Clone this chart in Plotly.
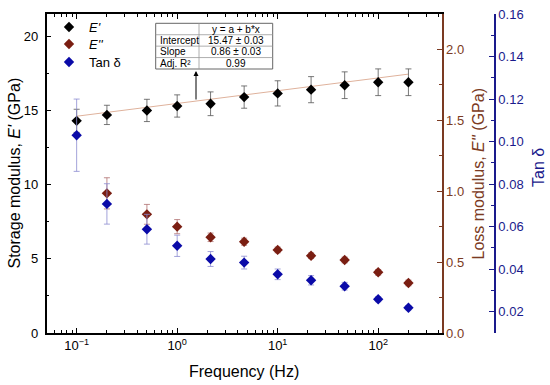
import numpy as np
import plotly.graph_objects as go

# ---------------- data ----------------
freq = [0.1, 0.2, 0.5, 1, 2.15, 4.64, 10, 21.5, 46.4, 100, 200]
e_storage = [14.3, 14.7, 15.0, 15.3, 15.45, 15.9, 16.15, 16.4, 16.7, 16.9, 16.9]
e_storage_err = [0.78, 0.65, 0.75, 0.75, 0.8, 0.75, 0.85, 0.88, 0.9, 0.9, 0.9]
e_loss = [None, 0.985, 0.837, 0.75, 0.675, 0.644, 0.586, 0.545, 0.515, 0.428, 0.353]
e_loss_err = [None, 0.11, 0.07, 0.05, 0.03, 0.025, 0.02, 0.02, 0.02, 0.02, 0.02]
tan_delta = [0.103, 0.0707, 0.0588, 0.051, 0.0448, 0.0431, 0.0376, 0.0348, 0.032, 0.0259, 0.0219]
tan_delta_err = [0.017, 0.0095, 0.007, 0.005, 0.0035, 0.003, 0.0025, 0.0022, 0.0018, 0.0012, 0.001]

fit_intercept = 15.47
fit_slope = 0.86
fit_rows = [("", "y = a + b*x"),
            ("Intercept", "15.47 \u00b1 0.03"),
            ("Slope", "0.86 \u00b1 0.03"),
            ("Adj. R\u00b2", "0.99")]

x_tickvals = [0.1, 1, 10, 100]
x_ticktext = ["10<sup>\u22121</sup>", "10<sup>0</sup>", "10<sup>1</sup>", "10<sup>2</sup>"]

# ---------------- styling ----------------
W, H = 550, 385
FONT = "Liberation Sans, Arial, sans-serif"
C_BLACK = "#000000"
C_LOSS = "#7a1e12"
C_LOSS_AXIS = "#7b3a22"
C_TAN = "#0a0aa8"
C_TAN_AXIS = "#1a1a8c"

PX_L, PX_R, PX_T, PX_B = 46.5, 441.7, 14, 333
TAN_AXIS_X = 495
LEGEND_ROWS_Y = [27, 44, 62]

def px(x):
    return x / W

def py(y):
    return 1 - y / H

fit_x = [freq[0], freq[-1]]
fit_y = [fit_intercept + fit_slope * np.log10(v) for v in fit_x]

fig = go.Figure()

fig.add_trace(go.Scatter(
    x=fit_x, y=fit_y, mode="lines", line=dict(color="#dfb29c", width=1),
    showlegend=False, hoverinfo="skip", xaxis="x", yaxis="y"))

fig.add_trace(go.Scatter(
    x=freq, y=e_storage, mode="markers", name="<i>E'</i>", legend="legend",
    marker=dict(symbol="diamond", size=8, color=C_BLACK),
    error_y=dict(type="data", array=e_storage_err, color="#555555", thickness=0.8, width=3),
    xaxis="x", yaxis="y"))

fig.add_trace(go.Scatter(
    x=freq, y=e_loss, mode="markers", name="<i>E''</i>", legend="legend2",
    marker=dict(symbol="diamond", size=8, color=C_LOSS),
    error_y=dict(type="data", array=e_loss_err, color="#b07070", thickness=0.8, width=3),
    xaxis="x", yaxis="y2"))

fig.add_trace(go.Scatter(
    x=freq, y=tan_delta, mode="markers", name="Tan \u03b4", legend="legend3",
    marker=dict(symbol="diamond", size=8, color=C_TAN),
    error_y=dict(type="data", array=tan_delta_err, color="#8c8cd0", thickness=0.8, width=3),
    xaxis="x", yaxis="y3"))

minor_x = [k * 10.0 ** e for e in range(-2, 3) for k in range(2, 10)]

tickfont = dict(family=FONT, size=13, color="#000000")

def legend_box(yrow):
    return dict(x=px(49), y=py(yrow), xanchor="left", yanchor="middle",
                bgcolor="rgba(0,0,0,0)", borderwidth=0,
                font=dict(family=FONT, size=13, color="black"), itemwidth=30)

fig.update_layout(
    width=W, height=H, template="none",
    margin=dict(l=0, r=0, t=0, b=0),
    paper_bgcolor="white", plot_bgcolor="white",
    font=dict(family=FONT, size=13, color="#000000"),
    xaxis=dict(
        type="log", domain=[px(PX_L), px(PX_R)],
        range=[-1.30, 2.632], automargin=False,
        showline=True, linecolor="black", linewidth=1.5, mirror="ticks",
        ticks="inside", ticklen=5, tickwidth=1, tickcolor="black",
        tickmode="array", tickvals=x_tickvals, ticktext=x_ticktext,
        tickfont=tickfont, showgrid=False, zeroline=False,
        minor=dict(ticks="inside", ticklen=3, tickwidth=1, tickcolor="black",
                   tickmode="array", tickvals=minor_x, showgrid=False),
    ),
    yaxis=dict(
        domain=[py(PX_B), py(PX_T)], range=[0, 21.5], automargin=False,
        showline=True, linecolor="black", linewidth=1.5,
        ticks="inside", ticklen=5, tickwidth=1, tickcolor="black",
        ticklabelstandoff=4,
        dtick=5, tick0=0, tickfont=tickfont, showgrid=False, zeroline=False,
        minor=dict(ticks="inside", ticklen=3, dtick=2.5, tickcolor="black", showgrid=False),
    ),
    yaxis2=dict(
        overlaying="y", side="right", anchor="x", range=[0, 2.25], automargin=False,
        showline=True, linecolor=C_LOSS_AXIS, linewidth=1.5,
        ticks="inside", ticklen=5, tickwidth=1, tickcolor=C_LOSS_AXIS,
        dtick=0.5, tick0=0, tickformat=".1f",
        tickfont=dict(family=FONT, size=13, color=C_LOSS_AXIS),
        showgrid=False, zeroline=False,
        minor=dict(ticks="inside", ticklen=3, dtick=0.25, tickcolor=C_LOSS_AXIS, showgrid=False),
    ),
    yaxis3=dict(
        overlaying="y", side="right", anchor="free", position=px(TAN_AXIS_X),
        range=[0.01, 0.16], automargin=False,
        showline=True, linecolor=C_TAN_AXIS, linewidth=1.5,
        ticks="inside", ticklen=5, tickwidth=1, tickcolor=C_TAN_AXIS,
        tickmode="array", tickvals=[0.02, 0.04, 0.06, 0.08, 0.10, 0.12, 0.14, 0.16],
        tickformat=".2f",
        tickfont=dict(family=FONT, size=13, color=C_TAN_AXIS),
        showgrid=False, zeroline=False,
        minor=dict(ticks="inside", ticklen=3, tickmode="array",
                   tickvals=[0.01, 0.03, 0.05, 0.07, 0.09, 0.11, 0.13, 0.15],
                   tickcolor=C_TAN_AXIS, showgrid=False),
    ),
    legend=legend_box(LEGEND_ROWS_Y[0]),
    legend2=legend_box(LEGEND_ROWS_Y[1]),
    legend3=legend_box(LEGEND_ROWS_Y[2]),
    showlegend=True,
)

annotations = [
    dict(text="Frequency (Hz)", x=px(244), y=py(371), xref="paper", yref="paper",
         showarrow=False, font=dict(family=FONT, size=16, color="black"),
         xanchor="center", yanchor="middle"),
    dict(text="Storage modulus, <i>E'</i> (GPa)", x=px(14), y=py(173.5), xref="paper", yref="paper",
         showarrow=False, textangle=-90, font=dict(family=FONT, size=16, color="black"),
         xanchor="center", yanchor="middle"),
    dict(text="Loss modulus, <i>E''</i> (GPa)", x=px(478), y=py(173.5), xref="paper", yref="paper",
         showarrow=False, textangle=-90, font=dict(family=FONT, size=16, color=C_LOSS_AXIS),
         xanchor="center", yanchor="middle"),
    dict(text="Tan \u03b4", x=px(539), y=py(168), xref="paper", yref="paper",
         showarrow=False, textangle=-90, font=dict(family=FONT, size=16, color=C_TAN_AXIS),
         xanchor="center", yanchor="middle"),
]

# fit result table
T_L, T_R, T_T, T_B, T_MID = 155.7, 272.7, 23.3, 69, 199
row_h = (T_B - T_T) / len(fit_rows)
shapes = [dict(type="rect", xref="paper", yref="paper",
               x0=px(T_L), x1=px(T_R), y0=py(T_B), y1=py(T_T),
               line=dict(color="#666666", width=1), fillcolor="white", layer="above")]
shapes.append(dict(type="line", xref="paper", yref="paper",
                   x0=px(T_MID), x1=px(T_MID), y0=py(T_B), y1=py(T_T),
                   line=dict(color="#999999", width=0.8), layer="above"))
for i in range(1, len(fit_rows)):
    yy = T_T + i * row_h
    shapes.append(dict(type="line", xref="paper", yref="paper",
                       x0=px(T_L), x1=px(T_R), y0=py(yy), y1=py(yy),
                       line=dict(color="#999999", width=0.8), layer="above"))
for i, (lab, val) in enumerate(fit_rows):
    yc = T_T + (i + 0.5) * row_h
    if lab:
        annotations.append(dict(text=lab, x=px(T_L + 2), y=py(yc), xref="paper", yref="paper",
                                showarrow=False, xanchor="left", yanchor="middle",
                                font=dict(family=FONT, size=10, color="black")))
    annotations.append(dict(text=val, x=px((T_MID + T_R) / 2), y=py(yc), xref="paper", yref="paper",
                            showarrow=False, xanchor="center", yanchor="middle",
                            font=dict(family=FONT, size=10, color="black")))

annotations.append(dict(x=px(196), y=py(71), xref="paper", yref="paper",
                        ax=0, ay=30, axref="pixel", ayref="pixel", text="",
                        showarrow=True, arrowhead=2, arrowsize=1, arrowwidth=1,
                        arrowcolor="black"))

fig.update_layout(annotations=annotations, shapes=shapes)

fig.write_html(
    "out.html",
    config={"displayModeBar": False},
    post_script="document.body.style.margin='0';document.body.style.overflow='hidden';"
                "document.documentElement.style.overflow='hidden';",
)
